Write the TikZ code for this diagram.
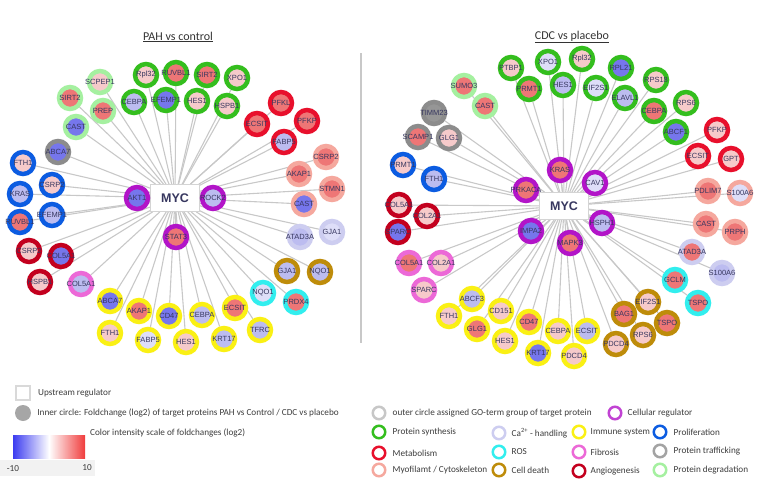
\documentclass[tikz,border=0pt]{standalone}
\usepackage{fontspec}
\setmainfont{Carlito}
\newfontfamily\genefont{Liberation Sans}
\usepackage{tikz}
\usetikzlibrary{positioning,backgrounds}
% ring colours (GO-term groups)
\definecolor{SynthGreen}{RGB}{52,190,30}
\definecolor{DegrGreen}{RGB}{165,240,160}
\definecolor{TrafGray}{RGB}{140,140,140}
\definecolor{ProlBlue}{RGB}{12,92,225}
\definecolor{MetaRed}{RGB}{232,16,44}
\definecolor{MyoSalmon}{RGB}{245,168,158}
\definecolor{CaLav}{RGB}{205,205,240}
\definecolor{DeathGold}{RGB}{190,140,10}
\definecolor{RosCyan}{RGB}{50,238,238}
\definecolor{ImmYellow}{RGB}{250,240,20}
\definecolor{FibPink}{RGB}{236,105,215}
\definecolor{AngioRed}{RGB}{195,0,30}
\definecolor{RegPurple}{RGB}{178,20,200}
% inner fill (fold change)
\definecolor{FcRed}{RGB}{238,118,118}
\definecolor{FcPink}{RGB}{246,202,202}
\definecolor{FcBlue}{RGB}{118,118,236}
\definecolor{FcLav}{RGB}{188,188,240}
\definecolor{FcPale}{RGB}{222,222,248}
\definecolor{FcGray}{RGB}{150,150,150}
\definecolor{LabelInk}{RGB}{55,55,95}
\definecolor{LinkGray}{RGB}{200,200,200}
\definecolor{LegInk}{RGB}{60,60,60}
\definecolor{GradBlue}{RGB}{60,60,240}
\definecolor{GradRed}{RGB}{240,60,60}
\tikzset{
  gene/.style={circle, minimum size=22pt, inner sep=0pt, line width=4.5pt},
  glabel/.style={font=\genefont\fontsize{7.5}{8}\selectfont, text=LabelInk, inner sep=0pt},
  psyn/.style={gene, draw=SynthGreen},
  pdeg/.style={gene, draw=DegrGreen},
  ptraf/.style={gene, draw=TrafGray},
  prolif/.style={gene, draw=ProlBlue},
  metab/.style={gene, draw=MetaRed},
  myo/.style={gene, draw=MyoSalmon},
  calh/.style={gene, draw=CaLav},
  ros/.style={gene, draw=RosCyan},
  cdeath/.style={gene, draw=DeathGold},
  immune/.style={gene, draw=ImmYellow},
  fibro/.style={gene, draw=FibPink},
  angio/.style={gene, draw=AngioRed},
  creg/.style={gene, draw=RegPurple},
  hub/.style={draw=black!17, fill=white, line width=0.8pt, minimum width=49pt, minimum height=27pt,
    font=\genefont\bfseries\fontsize{12.5}{14}\selectfont, text=LabelInk},
  link/.style={draw=LinkGray, line width=1.1pt},
  legring/.style={circle, minimum size=12.5pt, inner sep=0pt, line width=2.5pt, fill=white},
  legtext/.style={font=\fontsize{9.2}{10}\selectfont, text=LegInk, inner sep=0pt},
  title/.style={font=\fontsize{12}{14}\selectfont, text=black!80},
}

\begin{document}
\begin{tikzpicture}[x=1pt, y=-1pt]
\useasboundingbox (0,0) rectangle (761,482);

% titles and divider
\node[title] (tPAH) at (178,37) {\underline{PAH vs control}};
\node[title] (tCDC) at (572,37) {\underline{CDC vs placebo}};
\draw[LinkGray, line width=1.2pt] (361,53) -- (361,343);

% ---- PAH vs control ----
\node[hub] (lMYC) at (175,198) {MYC};
\node[pdeg, fill=FcPink, label={[glabel]center:SCPEP1}] (lSCPEP) at (100,82) {};
\node[pdeg, fill=FcRed, label={[glabel]center:SIRT2}] (lSIRTd) at (70,98) {};
\node[pdeg, fill=FcRed, label={[glabel]center:PREP}] (lPREP) at (103,111) {};
\node[pdeg, fill=FcBlue, label={[glabel]center:CAST}] (lCASTd) at (76,127) {};
\node[ptraf, fill=FcBlue, label={[glabel]center:ABCA7}] (lABCAt) at (58,152) {};
\node[psyn, fill=FcPink, label={[glabel]center:Rpl32}] (lRpl) at (146,75) {};
\node[psyn, fill=FcRed, label={[glabel]center:RUVBL1}] (lRUVBs) at (176,73) {};
\node[psyn, fill=FcRed, label={[glabel]center:SIRT2}] (lSIRTs) at (207,75) {};
\node[psyn, fill=FcPink, label={[glabel]center:XPO1}] (lXPO) at (237,78) {};
\node[psyn, fill=FcLav, label={[glabel]center:CEBPA}] (lCEBPs) at (134,102) {};
\node[psyn, fill=FcBlue, label={[glabel]center:EFEMP1}] (lEFEMs) at (166,100) {};
\node[psyn, fill=FcPink, label={[glabel]center:HES1}] (lHESs) at (197,101) {};
\node[psyn, fill=FcPink, label={[glabel]center:HSPB1}] (lHSPBs) at (227,106) {};
\node[metab, fill=FcRed, label={[glabel]center:PFKL}] (lPFKL) at (281,103) {};
\node[metab, fill=FcRed, label={[glabel]center:ECSIT}] (lECSITm) at (257,124) {};
\node[metab, fill=FcRed, label={[glabel]center:PFKP}] (lPFKP) at (307,121) {};
\node[metab, fill=FcLav, label={[glabel]center:FABP5}] (lFABPm) at (284,142) {};
\node[myo, fill=FcRed, label={[glabel]center:CSRP2}] (lCSRPy) at (326,157) {};
\node[myo, fill=FcRed, label={[glabel]center:AKAP1}] (lAKAPy) at (299,174) {};
\node[myo, fill=FcRed, label={[glabel]center:STMN1}] (lSTMN) at (332,189) {};
\node[myo, fill=FcBlue, label={[glabel]center:CAST}] (lCASTy) at (304,204) {};
\node[calh, fill=FcLav, label={[glabel]center:ATAD3A}] (lATAD) at (300,237) {};
\node[calh, fill=FcPale, label={[glabel]center:GJA1}] (lGJAc) at (332,232) {};
\node[cdeath, fill=FcLav, label={[glabel]center:GJA1}] (lGJAd) at (287,271) {};
\node[cdeath, fill=FcLav, label={[glabel]center:NQO1}] (lNQOd) at (320,272) {};
\node[ros, fill=FcPale, label={[glabel]center:NQO1}] (lNQOr) at (263,293) {};
\node[ros, fill=FcRed, label={[glabel]center:PRDX4}] (lPRDX) at (296,302) {};
\node[immune, fill=FcLav, label={[glabel]center:TFRC}] (lTFRC) at (260,330) {};
\node[immune, fill=FcLav, label={[glabel]center:KRT17}] (lKRT) at (224,339) {};
\node[immune, fill=FcRed, label={[glabel]center:ECSIT}] (lECSITi) at (235,308) {};
\node[immune, fill=FcLav, label={[glabel]center:CEBPA}] (lCEBPi) at (202,315) {};
\node[immune, fill=FcPink, label={[glabel]center:HES1}] (lHESi) at (186,342) {};
\node[immune, fill=FcBlue, label={[glabel]center:CD47}] (lCD) at (169,316) {};
\node[immune, fill=FcPale, label={[glabel]center:FABP5}] (lFABPi) at (148,340) {};
\node[immune, fill=FcRed, label={[glabel]center:AKAP1}] (lAKAPi) at (139,311) {};
\node[immune, fill=FcPink, label={[glabel]center:FTH1}] (lFTHi) at (110,333) {};
\node[immune, fill=FcBlue, label={[glabel]center:ABCA7}] (lABCAi) at (110,301) {};
\node[fibro, fill=FcLav, label={[glabel]center:COL5A1}] (lCOLf) at (81,284) {};
\node[angio, fill=FcPink, label={[glabel]center:HSPB1}] (lHSPBa) at (40,282) {};
\node[angio, fill=FcBlue, label={[glabel]center:COL5A1}] (lCOLa) at (61,256) {};
\node[angio, fill=FcPink, label={[glabel]center:CSRP2}] (lCSRPa) at (29,251) {};
\node[prolif, fill=FcPink, label={[glabel]center:FTH1}] (lFTHp) at (23,163) {};
\node[prolif, fill=FcPink, label={[glabel]center:CSRP2}] (lCSRPp) at (52,185) {};
\node[prolif, fill=FcLav, label={[glabel]center:KRAS}] (lKRAS) at (20,194) {};
\node[prolif, fill=FcLav, label={[glabel]center:EFEMP1}] (lEFEMp) at (52,215) {};
\node[prolif, fill=FcRed, label={[glabel]center:RUVBL1}] (lRUVBp) at (20,222) {};
\node[creg, fill=FcBlue, label={[glabel]center:AKT1}] (lAKT) at (137,198) {};
\node[creg, fill=FcLav, label={[glabel]center:ROCK2}] (lROCK) at (213,198) {};
\node[creg, fill=FcRed, label={[glabel]center:STAT3}] (lSTAT) at (176,237) {};

% ---- CDC vs placebo ----
\node[hub] (rMYC) at (564,206) {MYC};
\node[psyn, fill=FcPink, label={[glabel]center:PTBP1}] (rPTBP) at (511,68) {};
\node[psyn, fill=FcPale, label={[glabel]center:XPO1}] (rXPO) at (548,62) {};
\node[psyn, fill=FcPink, label={[glabel]center:Rpl32}] (rRpl) at (582,59) {};
\node[psyn, fill=FcBlue, label={[glabel]center:RPL21}] (rRPL) at (621,68) {};
\node[psyn, fill=FcPink, label={[glabel]center:RPS18}] (rRPSe) at (656,80) {};
\node[psyn, fill=FcLav, label={[glabel]center:HES1}] (rHESs) at (563,85) {};
\node[psyn, fill=FcRed, label={[glabel]center:PRMT1}] (rPRMTs) at (529,89) {};
\node[psyn, fill=FcPale, label={[glabel]center:EIF2S1}] (rEIFs) at (596,88) {};
\node[psyn, fill=FcLav, label={[glabel]center:ELAVL1}] (rELAV) at (625,98) {};
\node[psyn, fill=FcRed, label={[glabel]center:CEBPA}] (rCEBPs) at (654,111) {};
\node[psyn, fill=FcPink, label={[glabel]center:RPS6}] (rRPSs) at (686,103) {};
\node[psyn, fill=FcBlue, label={[glabel]center:ABCF1}] (rABCF) at (676,132) {};
\node[pdeg, fill=FcRed, label={[glabel]center:SUMO3}] (rSUMO) at (464,86) {};
\node[pdeg, fill=FcRed, label={[glabel]center:CAST}] (rCASTd) at (485,106) {};
\node[ptraf, fill=FcGray, label={[glabel]center:TIMM23}] (rTIMM) at (434,113) {};
\node[ptraf, fill=FcRed, label={[glabel]center:SCAMP1}] (rSCAMP) at (418,137) {};
\node[ptraf, fill=FcPink, label={[glabel]center:GLG1}] (rGLGt) at (449,138) {};
\node[prolif, fill=FcPink, label={[glabel]center:PRMT1}] (rPRMTp) at (403,165) {};
\node[prolif, fill=FcLav, label={[glabel]center:FTH1}] (rFTHp) at (434,179) {};
\node[creg, fill=FcRed, label={[glabel]center:KRAS}] (rKRAS) at (560,170) {};
\node[creg, fill=FcPale, label={[glabel]center:CAV1}] (rCAV) at (595,183) {};
\node[creg, fill=FcRed, label={[glabel]center:PRKACA}] (rPRKA) at (526,190) {};
\node[metab, fill=FcPink, label={[glabel]center:PFKP}] (rPFKP) at (717,130) {};
\node[metab, fill=FcPink, label={[glabel]center:ECSIT}] (rECSITm) at (698,156) {};
\node[metab, fill=FcPink, label={[glabel]center:GPT}] (rGPT) at (731,159) {};
\node[myo, fill=FcRed, label={[glabel]center:PDLIM7}] (rPDLIM) at (708,191) {};
\node[myo, fill=FcPale, label={[glabel]center:S100A6}] (rSCAy) at (740,193) {};
\node[myo, fill=FcRed, label={[glabel]center:CAST}] (rCASTy) at (706,224) {};
\node[myo, fill=FcRed, label={[glabel]center:PRPH}] (rPRPH) at (735,232) {};
\node[calh, fill=FcRed, label={[glabel]center:ATAD3A}] (rATAD) at (692,252) {};
\node[calh, fill=FcLav, label={[glabel]center:S100A6}] (rSCAc) at (722,273) {};
\node[ros, fill=FcRed, label={[glabel]center:GCLM}] (rGCLM) at (675,280) {};
\node[ros, fill=FcRed, label={[glabel]center:TSPO}] (rTSPOr) at (698,303) {};
\node[cdeath, fill=FcPink, label={[glabel]center:EIF2S1}] (rEIFd) at (648,302) {};
\node[cdeath, fill=FcRed, label={[glabel]center:BAG1}] (rBAG) at (624,314) {};
\node[cdeath, fill=FcRed, label={[glabel]center:TSPO}] (rTSPOd) at (667,323) {};
\node[cdeath, fill=FcPink, label={[glabel]center:RPS6}] (rRPSd) at (643,335) {};
\node[cdeath, fill=FcPink, label={[glabel]center:PDCD4}] (rPDCDd) at (616,344) {};
\node[creg, fill=FcBlue, label={[glabel]center:IMPA2}] (rIMPA) at (531,231) {};
\node[creg, fill=FcRed, label={[glabel]center:MAPK3}] (rMAPK) at (570,243) {};
\node[creg, fill=FcLav, label={[glabel]center:HSPH1}] (rHSPH) at (602,223) {};
\node[angio, fill=FcPink, label={[glabel]center:COL5A1}] (rCOLFa) at (399,205) {};
\node[angio, fill=FcPink, label={[glabel]center:COL2A1}] (rCOLTa) at (427,216) {};
\node[angio, fill=FcBlue, label={[glabel]center:SPARC}] (rSPARCa) at (398,232) {};
\node[fibro, fill=FcRed, label={[glabel]center:COL5A1}] (rCOLFf) at (409,263) {};
\node[fibro, fill=FcPink, label={[glabel]center:COL2A1}] (rCOLTf) at (441,263) {};
\node[fibro, fill=FcPink, label={[glabel]center:SPARC}] (rSPARCf) at (424,290) {};
\node[immune, fill=FcLav, label={[glabel]center:ABCF3}] (rABCFt) at (472,299) {};
\node[immune, fill=FcPink, label={[glabel]center:FTH1}] (rFTHi) at (449,316) {};
\node[immune, fill=FcPink, label={[glabel]center:CD151}] (rCDo) at (501,311) {};
\node[immune, fill=FcRed, label={[glabel]center:GLG1}] (rGLGi) at (477,329) {};
\node[immune, fill=FcPink, label={[glabel]center:HES1}] (rHESi) at (505,341) {};
\node[immune, fill=FcRed, label={[glabel]center:CD47}] (rCDf) at (529,322) {};
\node[immune, fill=FcBlue, label={[glabel]center:KRT17}] (rKRT) at (538,353) {};
\node[immune, fill=FcPink, label={[glabel]center:CEBPA}] (rCEBPi) at (558,331) {};
\node[immune, fill=FcLav, label={[glabel]center:ECSIT}] (rECSITi) at (587,331) {};
\node[immune, fill=FcPink, label={[glabel]center:PDCD4}] (rPDCDi) at (574,356) {};

% links to MYC, behind the circles
\begin{scope}[on background layer]
\foreach \g in {lSCPEP,lSIRTd,lPREP,lCASTd,lABCAt,lRpl,lRUVBs,lSIRTs,lXPO,lCEBPs,lEFEMs,lHESs,lHSPBs,
  lPFKL,lECSITm,lPFKP,lFABPm,lCSRPy,lAKAPy,lSTMN,lCASTy,lATAD,lGJAc,lGJAd,lNQOd,lNQOr,lPRDX,
  lTFRC,lKRT,lECSITi,lCEBPi,lHESi,lCD,lFABPi,lAKAPi,lFTHi,lABCAi,lCOLf,lHSPBa,lCOLa,lCSRPa,
  lFTHp,lCSRPp,lKRAS,lEFEMp,lRUVBp,lAKT,lROCK,lSTAT}
  \draw[link] (lMYC) -- (\g);
\foreach \g in {rPTBP,rXPO,rRpl,rRPL,rRPSe,rHESs,rPRMTs,rEIFs,rELAV,rCEBPs,rRPSs,rABCF,rSUMO,rCASTd,
  rTIMM,rSCAMP,rGLGt,rPRMTp,rFTHp,rKRAS,rCAV,rPRKA,rPFKP,rECSITm,rGPT,rPDLIM,rSCAy,rCASTy,rPRPH,
  rATAD,rSCAc,rGCLM,rTSPOr,rEIFd,rBAG,rTSPOd,rRPSd,rPDCDd,rIMPA,rMAPK,rHSPH,rCOLFa,rCOLTa,rSPARCa,
  rCOLFf,rCOLTf,rSPARCf,rABCFt,rFTHi,rCDo,rGLGi,rHESi,rCDf,rKRT,rCEBPi,rECSITi,rPDCDi}
  \draw[link] (rMYC) -- (\g);
\end{scope}

% ---- legend, left ----
\node[draw=black!15, line width=2pt, fill=white, minimum size=14pt, inner sep=0pt] (kUp) at (23,393) {};
\node[legtext, right=7pt of kUp] (kUpT) {Upstream regulator};
\node[circle, fill=black!35, minimum size=16pt, inner sep=0pt] (kIn) at (23,413) {};
\node[legtext, right=6pt of kIn] (kInT) {Inner circle: Foldchange (log2) of target proteins PAH vs Control / CDC vs placebo};
\shade[left color=GradBlue, right color=GradRed, middle color=white] (13,435) rectangle (85,458);
\node[legtext, anchor=west] (kScale) at (90,433) {Color intensity scale of foldchanges (log2)};
\fill[black!5] (0,460) rectangle (95,476);
\node[legtext] (kMin) at (13,469) {-10};
\node[legtext] (kMax) at (87,468) {10};

% ---- legend, right ----
\node[legring, draw=black!22] (kOuter) at (379,413) {};
\node[legtext, right=6pt of kOuter] (kOuterT) {outer circle assigned GO-term group of target protein};
\node[legring, draw=RegPurple!80] (kReg) at (615,413) {};
\node[legtext, right=5pt of kReg] (kRegT) {Cellular regulator};
\node[legring, draw=SynthGreen] (kSyn) at (379,432) {};
\node[legtext, right=6pt of kSyn] (kSynT) {Protein synthesis};
\node[legring, draw=CaLav] (kCa) at (499,433) {};
\node[legtext, right=5pt of kCa] (kCaT) {Ca\textsuperscript{2+} - handling};
\node[legring, draw=ImmYellow] (kImm) at (579,432) {};
\node[legtext, right=4pt of kImm] (kImmT) {Immune system};
\node[legring, draw=ProlBlue] (kProl) at (660,432) {};
\node[legtext, right=6pt of kProl] (kProlT) {Proliferation};
\node[legring, draw=MetaRed] (kMet) at (379,453) {};
\node[legtext, right=6pt of kMet] (kMetT) {Metabolism};
\node[legring, draw=RosCyan] (kRos) at (499,452) {};
\node[legtext, right=5pt of kRos] (kRosT) {ROS};
\node[legring, draw=FibPink] (kFib) at (579,452) {};
\node[legtext, right=4pt of kFib] (kFibT) {Fibrosis};
\node[legring, draw=TrafGray!80] (kTraf) at (660,451) {};
\node[legtext, right=6pt of kTraf] (kTrafT) {Protein trafficking};
\node[legring, draw=MyoSalmon] (kMyo) at (379,470) {};
\node[legtext, right=6pt of kMyo] (kMyoT) {Myofilamt / Cytoskeleton};
\node[legring, draw=DeathGold] (kDeath) at (499,470) {};
\node[legtext, right=5pt of kDeath] (kDeathT) {Cell death};
\node[legring, draw=AngioRed] (kAng) at (579,471) {};
\node[legtext, right=4pt of kAng] (kAngT) {Angiogenesis};
\node[legring, draw=DegrGreen] (kDeg) at (660,470) {};
\node[legtext, right=6pt of kDeg] (kDegT) {Protein degradation};
\end{tikzpicture}
\end{document}
